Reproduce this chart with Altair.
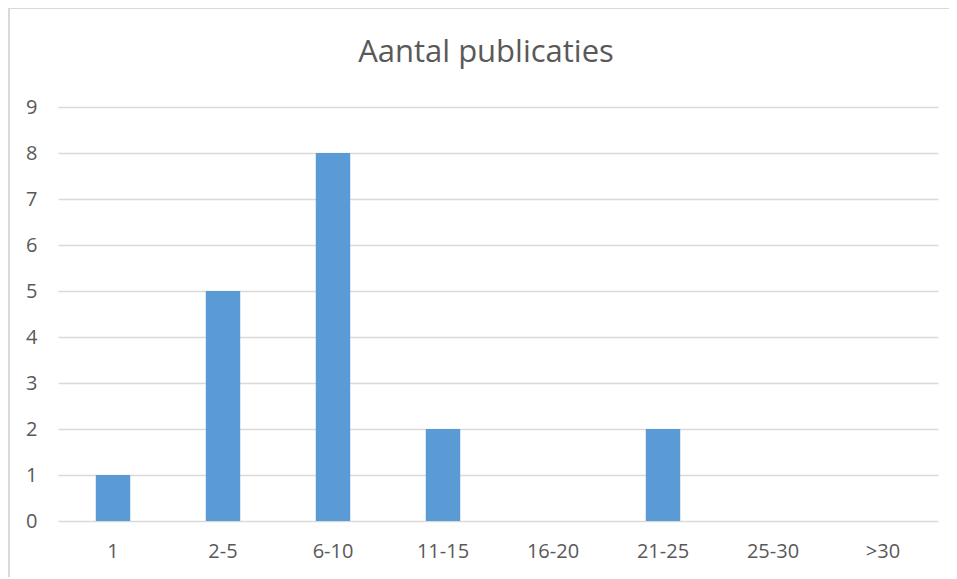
import altair as alt
import pandas as pd

categories = ["1", "2-5", "6-10", "11-15", "16-20", "21-25", "25-30", ">30"]
counts = [1, 5, 8, 2, 0, 2, 0, 0]
title_text = "Aantal publicaties"

df = pd.DataFrame({"cat": categories, "n": counts})

FONT = "Open Sans"
TXT = "#595959"

bars = alt.Chart(df).mark_bar(color="#5B9BD5").encode(
    x=alt.X("cat:N", sort=categories, title=None,
            scale=alt.Scale(paddingInner=0.687, paddingOuter=0.3435),
            axis=alt.Axis(labelAngle=0, ticks=False, domain=False, grid=False,
                          labelFont=FONT, labelFontSize=20, labelColor=TXT,
                          labelPadding=20)),
    y=alt.Y("n:Q", title=None,
            scale=alt.Scale(domain=[0, 9]),
            axis=alt.Axis(values=list(range(10)), ticks=False, domain=False,
                          gridColor="#D9D9D9", gridWidth=1.3,
                          labelFont=FONT, labelFontSize=20, labelColor=TXT,
                          labelPadding=21)),
)

one = pd.DataFrame({"k": [0]})
top_edge = alt.Chart(one).mark_rule(stroke="#D9D9D9", strokeWidth=2, clip=False).encode(
    x=alt.value(-50), x2=alt.value(898), y=alt.value(-99)
)
left_edge = alt.Chart(one).mark_rule(stroke="#D9D9D9", strokeWidth=2, clip=False).encode(
    x=alt.value(-49), y=alt.value(-100), y2=alt.value(470)
)

title = alt.Chart(pd.DataFrame({"t": [title_text]})).mark_text(
    font=FONT, fontSize=31, color=TXT, align="center", baseline="alphabetic"
).encode(text="t:N", x=alt.value(428), y=alt.value(-45))

chart = alt.layer(top_edge, left_edge, bars, title).properties(
    width=880, height=414,
    autosize=alt.AutoSizeParams(type="none"),
    padding={"left": 50, "top": 99, "right": 11, "bottom": 56},
).configure(background="transparent").configure_view(stroke=None)

chart.save("out.html", embed_options={"renderer": "svg", "actions": False})
